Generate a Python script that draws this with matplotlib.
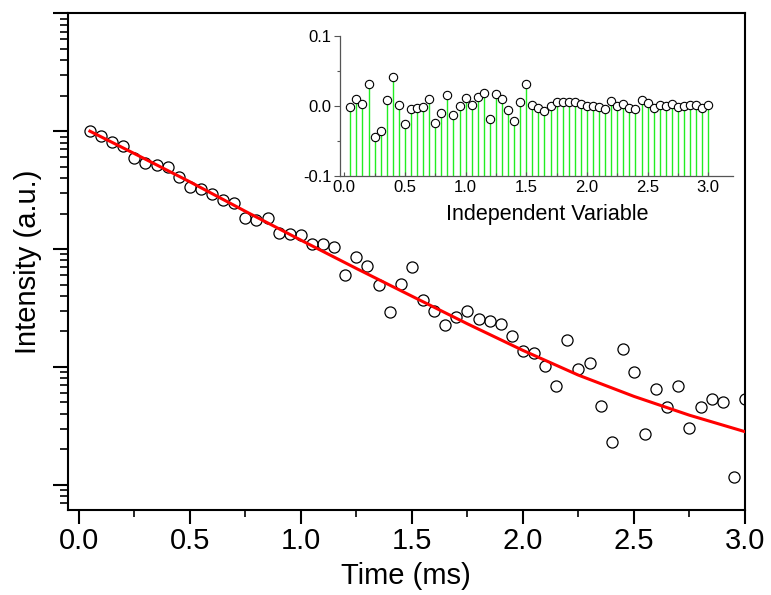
import numpy as np
import matplotlib
matplotlib.use('Agg')
import matplotlib.pyplot as plt
from matplotlib.ticker import LogLocator, NullFormatter, MultipleLocator

plt.rcParams['font.family'] = ['Liberation Sans', 'DejaVu Sans']
plt.rcParams['axes.unicode_minus'] = False

# decay data (main plot)
time = [0.05, 0.10, 0.15, 0.20, 0.25, 0.30, 0.35, 0.40, 0.45, 0.50,
        0.55, 0.60, 0.65, 0.70, 0.75, 0.80, 0.85, 0.90, 0.95, 1.00,
        1.05, 1.10, 1.15, 1.20, 1.25, 1.30, 1.35, 1.40, 1.45, 1.50,
        1.55, 1.60, 1.65, 1.70, 1.75, 1.80, 1.85, 1.90, 1.95, 2.00,
        2.05, 2.10, 2.15, 2.20, 2.25, 2.30, 2.35, 2.40, 2.45, 2.50,
        2.55, 2.60, 2.65, 2.70, 2.75, 2.80, 2.85, 2.90, 2.95, 3.00]
intensity = [1.000, 0.916, 0.813, 0.752, 0.596, 0.537, 0.520, 0.500, 0.410, 0.337,
             0.325, 0.292, 0.262, 0.244, 0.184, 0.177, 0.184, 0.136, 0.134, 0.132,
             0.110, 0.110, 0.104, 0.0603, 0.0861, 0.0718, 0.0495, 0.0292, 0.0501, 0.0708,
             0.0370, 0.0299, 0.0225, 0.0264, 0.0300, 0.0254, 0.0245, 0.0231, 0.0184, 0.01374,
             0.01306, 0.01026, 0.00690, 0.01683, 0.00962, 0.01089, 0.00465, 0.00230, 0.01413, 0.00912,
             0.00269, 0.00652, 0.00461, 0.00690, 0.00306, 0.00461, 0.00536, 0.00499, 0.00116, 0.00536]

# fitted curve
time_fit = [0.05, 0.25, 0.50, 0.75, 1.00, 1.25, 1.50, 1.75, 2.00, 2.25, 2.50, 2.75, 3.00]
intensity_fit = [1.0, 0.646, 0.372, 0.209, 0.119, 0.0684, 0.0398, 0.0232, 0.0138,
                 0.00851, 0.00562, 0.00389, 0.00282]

# residuals (inset)
residual = [-0.002, 0.010, 0.003, 0.032, -0.044, -0.036, 0.009, 0.041, 0.001, -0.026,
            -0.004, -0.003, -0.002, 0.010, -0.024, -0.010, 0.016, -0.013, 0.000, 0.011,
            0.002, 0.013, 0.018, -0.018, 0.017, 0.010, -0.006, -0.021, 0.005, 0.031,
            0.001, -0.003, -0.007, 0.000, 0.006, 0.005, 0.006, 0.006, 0.003, 0.000,
            0.000, -0.001, -0.004, 0.007, 0.000, 0.003, -0.003, -0.005, 0.008, 0.004,
            -0.003, 0.001, 0.000, 0.003, -0.001, 0.000, 0.001, 0.001, -0.003, 0.002]

fig = plt.figure(figsize=(7.71, 5.95), dpi=100)
ax = fig.add_axes([0.0878, 0.1429, 0.8785, 0.8347])

ax.plot(time, intensity, 'o', mfc='none', mec='black', ms=8, mew=0.9, zorder=2)
ax.plot(time_fit, intensity_fit, color='red', lw=2.2, zorder=3)

ax.set_yscale('log')
ax.set_xlim(-0.05, 3.0)
ax.set_ylim(10 ** -3.214, 10)
ax.yaxis.set_major_locator(LogLocator(base=10, numticks=10))
ax.yaxis.set_minor_locator(LogLocator(base=10, subs=np.arange(2, 10), numticks=20))
ax.yaxis.set_major_formatter(NullFormatter())
ax.yaxis.set_minor_formatter(NullFormatter())
ax.xaxis.set_major_locator(MultipleLocator(0.5))
ax.xaxis.set_minor_locator(MultipleLocator(0.25))
ax.tick_params(axis='y', which='major', length=11, width=1.5, direction='out')
ax.tick_params(axis='y', which='minor', length=6, width=1.2, direction='out')
ax.tick_params(axis='x', which='major', length=10, width=1.5, direction='out',
               labelsize=21, pad=2)
ax.tick_params(axis='x', which='minor', length=5, width=1.2, direction='out')
for s in ax.spines.values():
    s.set_linewidth(1.5)
ax.set_xlabel('Time (ms)', fontsize=21, labelpad=5)
ax.set_ylabel('Intensity (a.u.)', fontsize=21, labelpad=4)

# inset with residuals
ins = fig.add_axes([0.441, 0.7042, 0.510, 0.2353])
ins.patch.set_alpha(0)
ins.vlines(time, -0.1, residual, colors='#22ee22', lw=1.0, zorder=1)
ins.plot(time, residual, 'o', mfc='white', mec='black', ms=6, mew=0.8, zorder=3)
ins.set_xlim(-0.035, 3.206)
ins.set_ylim(-0.1, 0.1)
ins.xaxis.set_major_locator(MultipleLocator(0.5))
ins.xaxis.set_minor_locator(MultipleLocator(0.25))
ins.yaxis.set_major_locator(MultipleLocator(0.1))
ins.yaxis.set_minor_locator(MultipleLocator(0.05))
ins.yaxis.set_major_formatter(plt.FormatStrFormatter('%.1f'))
ins.spines['top'].set_visible(False)
ins.spines['right'].set_visible(False)
for side in ['left', 'bottom']:
    ins.spines[side].set_color('#555555')
    ins.spines[side].set_linewidth(0.9)
ins.tick_params(axis='y', which='major', length=4, width=0.8, color='#555555',
                direction='out', labelsize=12, pad=2)
ins.tick_params(axis='y', which='minor', length=2.5, width=0.8, color='#555555',
                direction='out')
ins.tick_params(axis='x', which='major', length=3, width=0.8, color='#555555',
                direction='in', labelsize=12, pad=3)
ins.tick_params(axis='x', which='minor', length=2, width=0.8, color='#555555',
                direction='in')
ins.set_xlabel('Independent Variable', fontsize=15.5, labelpad=7)
ins.xaxis.set_label_coords(0.527, -0.2)

plt.savefig('out.png', dpi=100, facecolor='white')
